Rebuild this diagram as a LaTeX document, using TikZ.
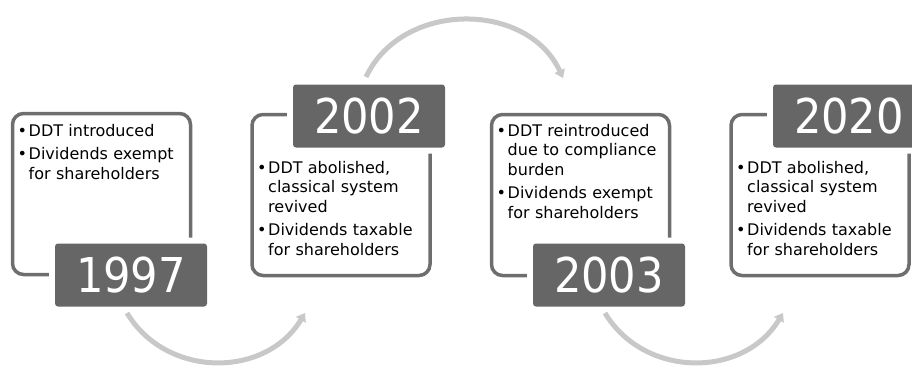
\documentclass[tikz,border=0pt]{standalone}
\usepackage{fontspec}
\setmainfont{DejaVu Sans}
\newfontfamily\yearfont{DejaVu Sans Condensed}
\usepackage{tikz}
\usetikzlibrary{arrows.meta,positioning}
\definecolor{boxgray}{HTML}{6E6E6E}
\definecolor{yeargray}{HTML}{666666}
\definecolor{arrowgray}{HTML}{C8C8C8}
\newcommand{\bul}[1]{\hangindent=11pt\hangafter=1\noindent\makebox[11pt][l]{•}#1\par}

\tikzset{
  panel/.style={draw=boxgray, line width=3.5pt, rounded corners=11pt,
    minimum width=178pt, minimum height=161pt, inner sep=0pt},
  year/.style={fill=yeargray, rounded corners=3pt, minimum width=152pt,
    minimum height=63pt, inner sep=0pt, text=white,
    font=\yearfont\fontsize{48}{48}\selectfont,
    preaction={draw=white, line width=12pt}},
  notes/.style={anchor=north west, text width=170pt, align=left, inner sep=0pt,
    font=\fontsize{16}{19.5}\selectfont,
    execute at begin node=\setlength{\parskip}{4pt}},
}

\begin{document}
\begin{tikzpicture}[x=1pt,y=1pt]
\useasboundingbox (0,0) rectangle (912,-369);
% outlines
\node[panel] (p1) at (101.5,-194) {};
\node[panel] (p2) at (341,-195) {};
\node[panel] (p3) at (580.5,-195) {};
\node[panel] (p4) at (820,-195) {};
% bullet notes
\node[notes] (n1) at (17.5,-124) {\bul{DDT introduced}\bul{Dividends exempt\newline for shareholders}};
\node[notes] (n2) at (257,-161) {\bul{DDT abolished,\newline classical system\newline revived}\bul{Dividends taxable\newline for shareholders}};
\node[notes] (n3) at (496.5,-124) {\bul{DDT reintroduced\newline due to compliance\newline burden}\bul{Dividends exempt\newline for shareholders}};
\node[notes] (n4) at (736,-161) {\bul{DDT abolished,\newline classical system\newline revived}\bul{Dividends taxable\newline for shareholders}};
% years
\node[year] (y1) at (131,-275) {1997};
\node[year] (y2) at (369,-116) {2002};
\node[year] (y3) at (609,-275) {2003};
\node[year] (y4) at (849,-116) {2020};
% arrows
\coordinate (a1) at (127,-313);
\coordinate (b1) at (305,-313);
\coordinate (a2) at (366,-77);
\coordinate (b2) at (563,-78);
\coordinate (a3) at (605,-313);
\coordinate (b3) at (783,-313);
\path[color=arrowgray, line width=5pt, -{Triangle[length=8pt,width=11pt]}]
(a1) edge[bend right=59, looseness=1.1] (b1)
(a2) edge[bend left=65, looseness=1.1] (b2)
(a3) edge[bend right=59, looseness=1.1] (b3);
\end{tikzpicture}
\end{document}
